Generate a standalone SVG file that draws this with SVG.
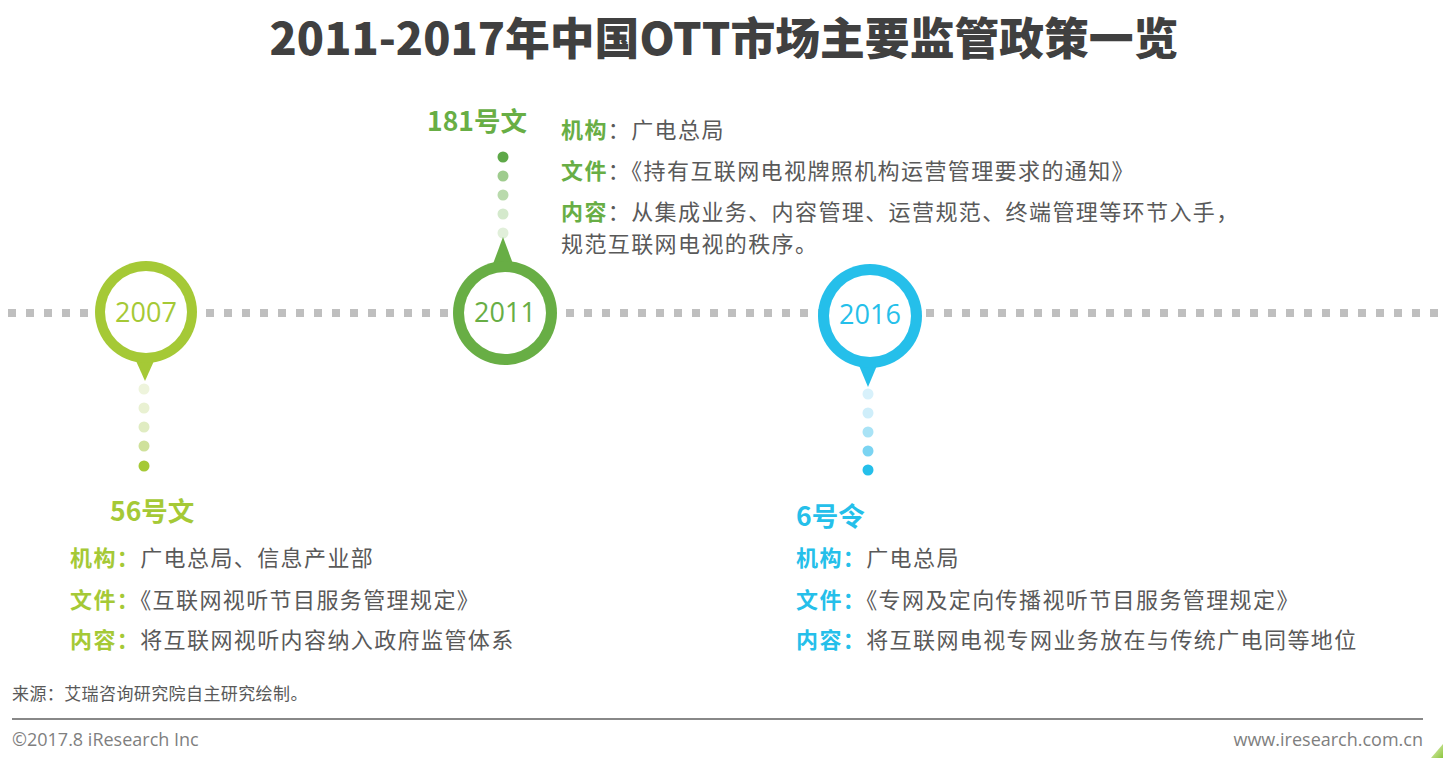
<svg xmlns="http://www.w3.org/2000/svg" width="1443" height="758" viewBox="0 0 1443 758">
<defs>
<style>
.title{font-family:"Noto Sans CJK SC","Liberation Sans",sans-serif;font-weight:900;font-size:44.8px;fill:#404040}
.head{font-family:"Noto Sans CJK SC","Liberation Sans",sans-serif;font-weight:700;font-size:26.5px}
.body{font-family:"Noto Sans CJK SC","Liberation Sans",sans-serif;font-size:22px;letter-spacing:1.4px;fill:#595959}
.lbl{font-weight:700}
.year{font-family:"Open Sans","Noto Sans",sans-serif;font-weight:400;font-size:27px;text-anchor:middle}
.foot{font-family:"Noto Sans CJK SC","Liberation Sans",sans-serif;font-size:17px;letter-spacing:0.4px;fill:#595959}
.foot2{font-family:"Open Sans","Noto Sans",sans-serif;font-size:18px;fill:#7f7f7f}
.g1{fill:#a5c936}
.g2{fill:#68ae45}
.b1{fill:#25bfea}
</style>
<linearGradient id="corner" x1="0" y1="0" x2="1" y2="1">
<stop offset="0" stop-color="#e8f2c0"/>
<stop offset="1" stop-color="#8cc63f"/>
</linearGradient>
</defs>
<rect width="1443" height="758" fill="#ffffff"/>
<text class="title" x="724" y="55" text-anchor="middle">2011-2017年中国OTT市场主要监管政策一览</text>

<g id="connectors">
<line x1="8" y1="313" x2="1440" y2="313" stroke="#bfbfbf" stroke-width="8" stroke-dasharray="8 10"/>
<g id="dots-2007">
<circle cx="144" cy="389" r="5.5" fill="#eef4dc"/>
<circle cx="144" cy="408" r="5.5" fill="#e9f1d2"/>
<circle cx="144" cy="427" r="5.5" fill="#e0ecc2"/>
<circle cx="144" cy="446" r="5.5" fill="#cfe19b"/>
<circle cx="144" cy="466" r="5.5" fill="#a5c936"/>
</g>
<g id="dots-2011">
<circle cx="503" cy="157" r="5.5" fill="#5ea848"/>
<circle cx="503" cy="176" r="5.5" fill="#9fcc8e"/>
<circle cx="503" cy="195" r="5.5" fill="#b9daac"/>
<circle cx="503" cy="214" r="5.5" fill="#d4e9cc"/>
<circle cx="503" cy="233" r="5.5" fill="#e1efda"/>
</g>
<g id="dots-2016">
<circle cx="868" cy="394" r="5.5" fill="#d8f1fb"/>
<circle cx="868" cy="413" r="5.5" fill="#cfeefa"/>
<circle cx="868" cy="432" r="5.5" fill="#a9e3f6"/>
<circle cx="868" cy="451" r="5.5" fill="#7bd4f2"/>
<circle cx="868" cy="470" r="5.5" fill="#25bfea"/>
</g>
</g>

<g id="pin-2007">
<polygon class="g1" points="132,352 158,352 145,381"/>
<circle cx="146" cy="312" r="51" class="g1"/>
<circle cx="146" cy="312" r="41" fill="#ffffff"/>
<text class="year g1" x="146" y="322">2007</text>
</g>
<g id="pin-2011">
<polygon class="g2" points="490,272 516,272 503,237"/>
<circle cx="505" cy="313" r="52" class="g2"/>
<circle cx="505" cy="313" r="41" fill="#ffffff"/>
<text class="year g2" x="505" y="322">2011</text>
</g>
<g id="pin-2016">
<polygon class="b1" points="855,356 881,356 868,387"/>
<circle cx="870" cy="316" r="52" class="b1"/>
<circle cx="870" cy="316" r="41" fill="#ffffff"/>
<text class="year b1" x="870" y="324">2016</text>
</g>

<g id="node-2011">
<text class="head g2" x="427" y="131">181号文</text>
<text class="body" x="561" y="138"><tspan class="lbl g2">机构</tspan>：广电总局</text>
<text class="body" x="561" y="179"><tspan class="lbl g2">文件</tspan>：《持有互联网电视牌照机构运营管理要求的通知》</text>
<text class="body" x="561" y="220"><tspan class="lbl g2">内容</tspan>：从集成业务、内容管理、运营规范、终端管理等环节入手，</text>
<text class="body" x="561" y="252">规范互联网电视的秩序。</text>
</g>

<g id="node-2007">
<text class="head g1" x="110" y="521">56号文</text>
<text class="body" x="70" y="566"><tspan class="lbl g1">机构：</tspan>广电总局、信息产业部</text>
<text class="body" x="70" y="608"><tspan class="lbl g1">文件：</tspan>《互联网视听节目服务管理规定》</text>
<text class="body" x="70" y="648"><tspan class="lbl g1">内容：</tspan>将互联网视听内容纳入政府监管体系</text>
</g>

<g id="node-2016">
<text class="head b1" x="796" y="526">6号令</text>
<text class="body" x="796" y="566"><tspan class="lbl b1">机构：</tspan>广电总局</text>
<text class="body" x="796" y="608"><tspan class="lbl b1">文件：</tspan>《专网及定向传播视听节目服务管理规定》</text>
<text class="body" x="796" y="648"><tspan class="lbl b1">内容：</tspan>将互联网电视专网业务放在与传统广电同等地位</text>
</g>

<g id="footer">
<text class="foot" x="12" y="700">来源：艾瑞咨询研究院自主研究绘制。</text>
<line x1="12" y1="719" x2="1423" y2="719" stroke="#888888" stroke-width="2"/>
<text class="foot2" x="12" y="746">©2017.8 iResearch Inc</text>
<text class="foot2" x="1423" y="746" text-anchor="end">www.iresearch.com.cn</text>
<polygon points="1443,744 1443,758 1431,758" fill="url(#corner)"/>
</g>
</svg>
